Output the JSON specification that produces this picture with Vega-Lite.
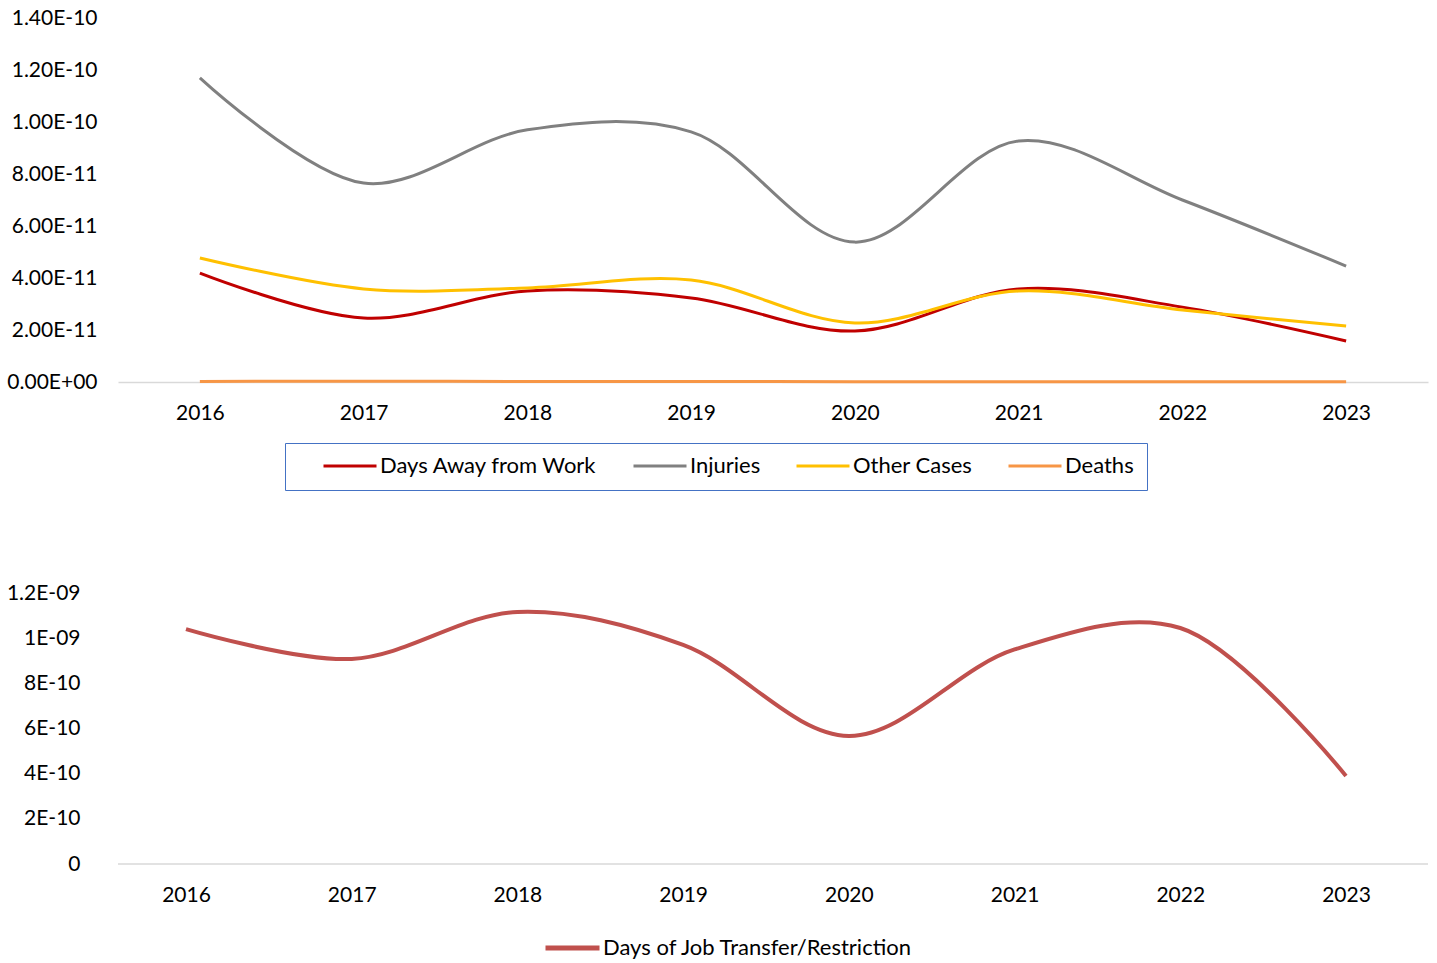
{
  "$schema": "https://vega.github.io/schema/vega-lite/v6.json",
  "background": "white",
  "padding": {"left": 6, "top": 7, "right": 8, "bottom": 3},
  "config": {
    "font": "Lato",
    "view": {"stroke": null},
    "axis": {"labelFont": "Lato", "labelColor": "#000000", "labelFontSize": 21, "title": null, "grid": false, "ticks": false},
    "legend": {"labelFont": "Lato", "labelColor": "#000000", "labelFontSize": 22, "labelLimit": 500}
  },
  "datasets": {
    "top": [
      {"year": "2016", "series": "Days Away from Work", "value": 4.19e-11},
      {"year": "2017", "series": "Days Away from Work", "value": 2.46e-11},
      {"year": "2018", "series": "Days Away from Work", "value": 3.5e-11},
      {"year": "2019", "series": "Days Away from Work", "value": 3.23e-11},
      {"year": "2020", "series": "Days Away from Work", "value": 1.96e-11},
      {"year": "2021", "series": "Days Away from Work", "value": 3.58e-11},
      {"year": "2022", "series": "Days Away from Work", "value": 2.88e-11},
      {"year": "2023", "series": "Days Away from Work", "value": 1.58e-11},
      {"year": "2016", "series": "Injuries", "value": 1.17e-10},
      {"year": "2017", "series": "Injuries", "value": 7.65e-11},
      {"year": "2018", "series": "Injuries", "value": 9.7e-11},
      {"year": "2019", "series": "Injuries", "value": 9.62e-11},
      {"year": "2020", "series": "Injuries", "value": 5.38e-11},
      {"year": "2021", "series": "Injuries", "value": 9.27e-11},
      {"year": "2022", "series": "Injuries", "value": 7.0e-11},
      {"year": "2023", "series": "Injuries", "value": 4.46e-11},
      {"year": "2016", "series": "Other Cases", "value": 4.77e-11},
      {"year": "2017", "series": "Other Cases", "value": 3.58e-11},
      {"year": "2018", "series": "Other Cases", "value": 3.62e-11},
      {"year": "2019", "series": "Other Cases", "value": 3.92e-11},
      {"year": "2020", "series": "Other Cases", "value": 2.27e-11},
      {"year": "2021", "series": "Other Cases", "value": 3.5e-11},
      {"year": "2022", "series": "Other Cases", "value": 2.77e-11},
      {"year": "2023", "series": "Other Cases", "value": 2.15e-11},
      {"year": "2016", "series": "Deaths", "value": 2e-13},
      {"year": "2017", "series": "Deaths", "value": 3e-13},
      {"year": "2018", "series": "Deaths", "value": 2e-13},
      {"year": "2019", "series": "Deaths", "value": 2e-13},
      {"year": "2020", "series": "Deaths", "value": 1e-13},
      {"year": "2021", "series": "Deaths", "value": 1e-13},
      {"year": "2022", "series": "Deaths", "value": 1e-13},
      {"year": "2023", "series": "Deaths", "value": 1e-13}
    ],
    "bottom": [
      {"year": "2016", "series": "Days of Job Transfer/Restriction", "value": 1.04e-9},
      {"year": "2017", "series": "Days of Job Transfer/Restriction", "value": 9.08e-10},
      {"year": "2018", "series": "Days of Job Transfer/Restriction", "value": 1.116e-9},
      {"year": "2019", "series": "Days of Job Transfer/Restriction", "value": 9.7e-10},
      {"year": "2020", "series": "Days of Job Transfer/Restriction", "value": 5.67e-10},
      {"year": "2021", "series": "Days of Job Transfer/Restriction", "value": 9.5e-10},
      {"year": "2022", "series": "Days of Job Transfer/Restriction", "value": 1.045e-9},
      {"year": "2023", "series": "Days of Job Transfer/Restriction", "value": 3.9e-10}
    ]
  },
  "concat": [
    {
      "width": 1310,
      "height": 364,
      "data": {"name": "top"},
      "mark": {"type": "line", "strokeWidth": 3, "interpolate": "catmull-rom"},
      "encoding": {
        "x": {
          "field": "year", "type": "ordinal",
          "scale": {"type": "point", "padding": 0.5},
          "axis": {"labelAngle": 0, "domainColor": "#D9D9D9", "domainWidth": 1.5, "labelPadding": 20}
        },
        "y": {
          "field": "value", "type": "quantitative",
          "scale": {"domain": [0, 1.4e-10], "nice": false},
          "axis": {
            "domain": false,
            "values": [0, 2e-11, 4e-11, 6e-11, 8e-11, 1e-10, 1.2e-10, 1.4e-10],
            "labelPadding": 21,
            "labelExpr": "datum.value == 0 ? '0.00E+00' : upper(format(datum.value, '.2e'))"
          }
        },
        "color": {
          "field": "series", "type": "nominal",
          "sort": ["Days Away from Work", "Injuries", "Other Cases", "Deaths"],
          "scale": {
            "domain": ["Days Away from Work", "Injuries", "Other Cases", "Deaths"],
            "range": ["#C00000", "#808080", "#FFC000", "#F79646"]
          },
          "legend": {
            "title": null,
            "orient": "none",
            "legendX": 167,
            "legendY": 425,
            "direction": "horizontal",
            "symbolType": "stroke",
            "symbolSize": 2809,
            "symbolStrokeWidth": 3,
            "clipHeight": 20,
            "labelOffset": 2,
            "columnPadding": 10,
            "padding": 13,
            "symbolOffset": 24,
            "strokeColor": "#4472C4",
            "fillColor": "white"
          }
        }
      }
    },
    {
      "width": 1310,
      "height": 271,
      "layer": [
        {
          "data": {"values": [{}]},
          "mark": {"type": "rule", "color": "#D9D9D9", "strokeWidth": 1.5},
          "encoding": {"y": {"datum": 0, "type": "quantitative"}}
        },
        {
          "data": {"name": "bottom"},
          "mark": {"type": "line", "strokeWidth": 4, "interpolate": "catmull-rom"},
          "encoding": {
            "x": {
              "field": "year", "type": "ordinal",
              "scale": {"type": "point", "padding": 0, "range": [68, 1228]},
              "axis": {"labelAngle": 0, "domain": false, "labelPadding": 20}
            },
            "y": {
              "field": "value", "type": "quantitative",
              "scale": {"domain": [0, 1.2e-9], "nice": false},
              "axis": {
                "domain": false,
                "values": [0, 2e-10, 4e-10, 6e-10, 8e-10, 1e-9, 1.2e-9],
                "labelPadding": 38,
                "labelExpr": "datum.value == 0 ? '0' : replace(upper(format(datum.value, '~e')), 'E-9', 'E-09')"
              }
            },
            "color": {
              "field": "series", "type": "nominal",
              "scale": {"range": ["#C0504D"]},
              "legend": {
                "title": null,
                "orient": "none",
                "legendX": 425,
                "legendY": 345,
                "direction": "horizontal",
                "symbolType": "stroke",
                "symbolSize": 2916,
                "symbolStrokeWidth": 5,
                "clipHeight": 20,
                "labelOffset": 1,
                "padding": 0
              }
            }
          }
        }
      ]
    }
  ],
  "columns": 1,
  "spacing": 91,
  "resolve": {"scale": {"color": "independent", "x": "independent", "y": "independent"}, "legend": {"color": "independent"}}
}
